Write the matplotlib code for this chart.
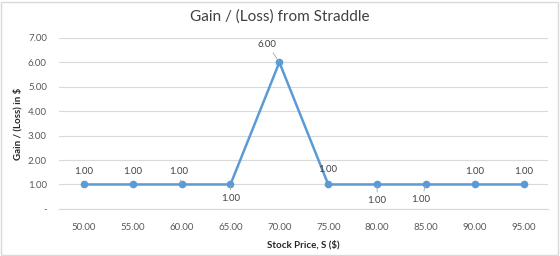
import matplotlib.pyplot as plt
from matplotlib.patches import Rectangle

plt.rcParams['font.family'] = ['Lato', 'DejaVu Sans']

prices = [50, 55, 60, 65, 70, 75, 80, 85, 90, 95]
gain = [1, 1, 1, 1, 6, 1, 1, 1, 1, 1]
y_ticks = [0, 1, 2, 3, 4, 5, 6, 7]

# label offsets in pixels (dx, dy) and whether a leader line is drawn
label_offsets = [(0, 13), (0, 13), (-3, 13), (0, -14), (-12, 18),
                 (-1, 15), (0, -16), (-5, -15), (0, 13), (0, 13)]
leaders = [False, False, True, True, True, False, True, True, False, False]

fig = plt.figure(figsize=(5.6, 2.56), dpi=100)
ax = fig.add_axes([0.106, 0.184, 0.873, 0.668])

x = list(range(len(prices)))
ax.plot(x, gain, color='#5B9BD5', lw=1.8, marker='o', ms=4.5, zorder=3)

for i, (xi, yi) in enumerate(zip(x, gain)):
    dx, dy = label_offsets[i]
    kw = {}
    if leaders[i]:
        kw['arrowprops'] = dict(arrowstyle='-', color='#A6A6A6', lw=0.6,
                                shrinkA=1, shrinkB=1)
    ax.annotate('%.2f' % yi, (xi, yi), xytext=(dx, dy),
                textcoords='offset pixels', ha='center', va='center',
                fontsize=7, color='#404040', **kw)

ax.set_xlim(-0.5, len(prices) - 0.5)
ax.set_ylim(0, 7)
ax.set_xticks(x)
ax.set_xticklabels(['%.2f' % p for p in prices])
ax.set_yticks(y_ticks)
ax.set_yticklabels(['-' if t == 0 else '%.2f' % t for t in y_ticks])
ax.tick_params(length=0, labelsize=7, labelcolor='#595959')
ax.tick_params(axis='x', pad=10)
ax.tick_params(axis='y', pad=9)
ax.grid(axis='y', color='#D9D9D9', lw=0.8)
ax.set_axisbelow(True)
for s in ['top', 'right', 'left']:
    ax.spines[s].set_visible(False)
ax.spines['bottom'].set_color('#D9D9D9')

fig.suptitle('Gain / (Loss) from Straddle', x=0.5, y=0.965, fontsize=11, color='#404040')
ax.set_xlabel('Stock Price, S ($)', fontsize=7, fontweight='bold', color='#262626', labelpad=6)
ax.set_ylabel('Gain / (Loss) in $', fontsize=7, fontweight='bold', color='#262626', labelpad=4)

fig.patches.append(Rectangle((0.002, 0.004), 0.995, 0.99, transform=fig.transFigure,
                             fill=False, edgecolor='#D9D9D9', lw=1))

fig.savefig('out.png', dpi=100)
